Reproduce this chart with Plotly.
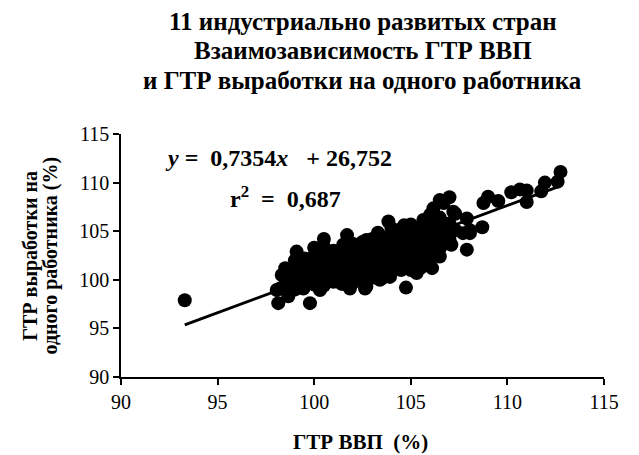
import plotly.graph_objects as go

# ГТР ВВП (%) -- x values, ГТР выработки на одного работника (%) -- y values
gdp_growth = [
    93.3, 98.06, 98.14, 98.23, 98.32, 98.66, 99.09, 99.09, 99.44, 99.78,
    100.13, 100.3, 100.5, 101.0, 101.42, 101.7, 101.85, 102.7, 102.63, 102.7,
    103.3, 103.4, 103.5, 103.84, 103.92, 104.65, 104.75, 105.3, 105.65, 106.1,
    106.17, 106.5, 106.5, 106.7, 106.85, 107.0, 107.1, 107.2, 107.3, 107.3,
    107.7, 107.9, 107.9, 108.06, 108.06, 108.7, 108.76, 109.0, 109.53, 110.2,
    110.65, 111.0, 111.0, 111.75, 111.94, 112.6, 112.75,
    98.5, 98.5, 98.5,
    99.0, 99.0, 99.0, 99.0,
    99.5, 99.5, 99.5, 99.5,
    100.0, 100.0, 100.0, 100.0, 100.0,
    100.5, 100.5, 100.5, 100.5, 100.5, 100.5,
    101.0, 101.0, 101.0, 101.0, 101.0,
    101.5, 101.5, 101.5, 101.5, 101.5, 101.5,
    102.0, 102.0, 102.0, 102.0, 102.0, 102.0,
    102.5, 102.5, 102.5, 102.5, 102.5, 102.5,
    103.0, 103.0, 103.0, 103.0, 103.0, 103.0,
    103.5, 103.5, 103.5, 103.5, 103.5, 103.5,
    104.0, 104.0, 104.0, 104.0, 104.0, 104.0, 104.0,
    104.5, 104.5, 104.5, 104.5, 104.5, 104.5, 104.5,
    105.0, 105.0, 105.0, 105.0, 105.0, 105.0, 105.0,
    105.5, 105.5, 105.5, 105.5, 105.5, 105.5,
    106.0, 106.0, 106.0, 106.0, 106.0, 106.0, 106.0,
    106.5, 106.5, 106.5, 106.5, 106.5,
    107.0, 107.0, 107.0,
]
productivity_growth = [
    97.9, 98.95, 97.6, 99.1, 100.5, 98.3, 102.9, 101.7, 99.1, 97.6,
    103.1, 98.95, 104.2, 102.8, 99.6, 104.6, 99.1, 104.1, 99.1, 99.3,
    104.85, 100.0, 100.15, 106.0, 100.3, 105.6, 99.2, 100.7, 106.15, 101.2,
    107.35, 102.4, 108.2, 107.9, 103.8, 108.5, 103.6, 107.0, 106.8, 105.1,
    104.8, 106.3, 103.1, 105.1, 104.8, 105.4, 107.9, 108.55, 108.1, 109.0,
    109.3, 109.2, 108.0, 109.1, 110.0, 110.1, 111.1,
    99.5, 100.4, 101.2,
    99.0, 100.0, 101.0, 102.0,
    99.3, 100.3, 101.2, 102.2,
    99.5, 100.5, 101.5, 102.5, 103.3,
    99.4, 100.2, 101.0, 101.8, 102.6, 103.4,
    99.8, 100.6, 101.4, 102.2, 103.0,
    99.6, 100.4, 101.2, 102.0, 102.8, 103.6,
    99.7, 100.5, 101.3, 102.1, 102.9, 103.7,
    99.9, 100.7, 101.5, 102.3, 103.1, 103.9,
    100.2, 101.0, 101.8, 102.6, 103.4, 104.2,
    100.4, 101.2, 102.0, 102.8, 103.6, 104.4,
    100.8, 101.5, 102.2, 103.0, 103.8, 104.6, 105.3,
    101.0, 101.7, 102.4, 103.1, 103.8, 104.5, 105.2,
    101.0, 101.8, 102.6, 103.4, 104.2, 105.0, 105.7,
    101.2, 102.0, 102.8, 103.6, 104.4, 105.2,
    102.0, 102.8, 103.6, 104.4, 105.2, 106.0, 106.7,
    103.2, 104.0, 104.8, 105.6, 106.4,
    104.2, 105.0, 105.8,
]

# Linear trend shown on the chart: y = 0,7354x + 26,752
trend_slope = 0.7354
trend_intercept = 26.752

axis_ticks = [90, 95, 100, 105, 110, 115]

title_lines = [
    "11 индустриально развитых стран",
    "Взаимозависимость ГТР ВВП",
    "и ГТР выработки на одного работника",
]
x_title = "ГТР ВВП&nbsp;&nbsp;(%)"
y_title_lines = ["ГТР выработки на", "одного работника (%)"]

FONT = "Liberation Serif"

trend_x = [min(gdp_growth), max(gdp_growth)]
trend_y = [trend_slope * v + trend_intercept for v in trend_x]

fig = go.Figure()
fig.add_trace(go.Scatter(
    x=trend_x, y=trend_y, mode="lines",
    line=dict(color="black", width=3), showlegend=False, hoverinfo="skip",
))
fig.add_trace(go.Scatter(
    x=gdp_growth, y=productivity_growth, mode="markers",
    marker=dict(color="black", size=14, line=dict(width=0)),
    showlegend=False,
))

annotations = []
title_y = [1.463, 1.344, 1.222]
for txt, yy in zip(title_lines, title_y):
    annotations.append(dict(
        text="<b>" + txt + "</b>", xref="paper", yref="paper", x=0.5, y=yy,
        xanchor="center", yanchor="middle", showarrow=False,
        font=dict(family=FONT, size=25, color="black"),
    ))
annotations.append(dict(
    text="<b>" + x_title + "</b>", xref="paper", yref="paper", x=0.495, y=-0.267,
    xanchor="center", yanchor="middle", showarrow=False,
    font=dict(family=FONT, size=21, color="black"),
))
for txt, xx in zip(y_title_lines, [-0.188, -0.145]):
    annotations.append(dict(
        text="<b>" + txt + "</b>", xref="paper", yref="paper", x=xx, y=0.5,
        xanchor="center", yanchor="middle", showarrow=False, textangle=-90,
        font=dict(family=FONT, size=20, color="black"),
    ))
annotations.append(dict(
    text="<b><i>y</i>&nbsp;=&nbsp;&nbsp;0,7354<i>x</i>&nbsp;&nbsp;&nbsp;+&nbsp;26,752</b>",
    xref="x", yref="y",
    x=92.17, y=112.53, xanchor="left", yanchor="middle", showarrow=False,
    font=dict(family=FONT, size=24, color="black"),
))
annotations.append(dict(
    text="<b>r<sup>2</sup>&nbsp;&nbsp;=&nbsp;&nbsp;0,687</b>", xref="x", yref="y",
    x=95.54, y=108.5, xanchor="left", yanchor="middle", showarrow=False,
    font=dict(family=FONT, size=24, color="black"),
))

axis_common = dict(
    range=[90, 115], tickvals=axis_ticks, ticktext=[str(t) for t in axis_ticks],
    showgrid=False, zeroline=False, showline=True, linecolor="black", linewidth=1.5,
    ticks="outside", ticklen=6, tickwidth=1.5, tickcolor="black",
    tickfont=dict(family=FONT, size=20, color="black"),
)

# The page body adds an 8px offset, so the figure is sized to fit the 639x455 window.
fig.update_layout(
    width=631, height=447,
    margin=dict(l=113, r=35, t=126, b=78, autoexpand=False),
    paper_bgcolor="white", plot_bgcolor="white",
    xaxis=dict(**axis_common),
    yaxis=dict(**axis_common),
    annotations=annotations,
    font=dict(family=FONT, color="black"),
)

fig.write_html("out.html")
